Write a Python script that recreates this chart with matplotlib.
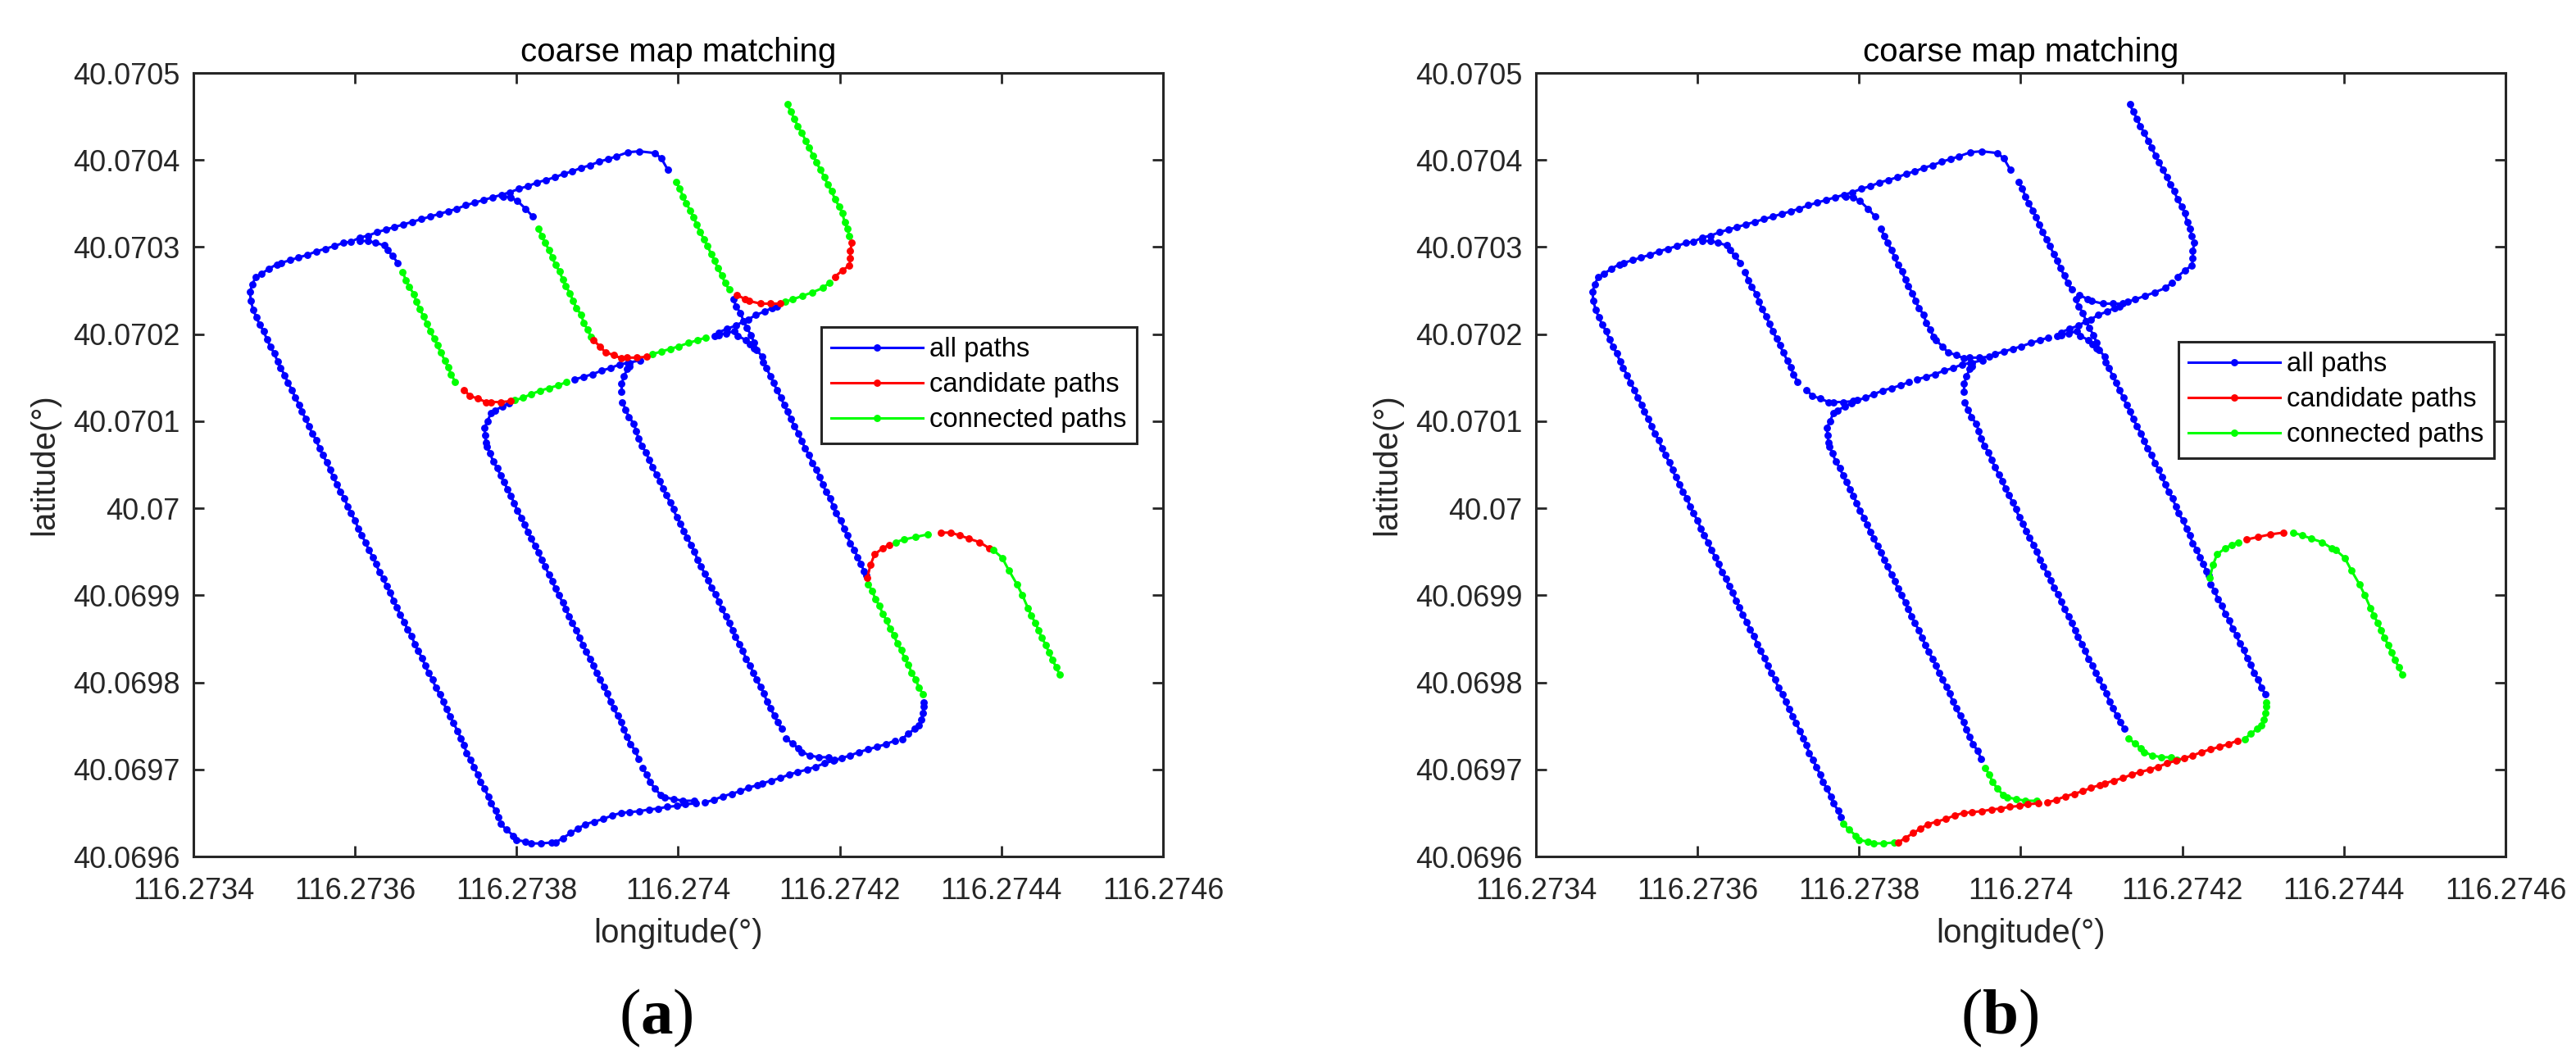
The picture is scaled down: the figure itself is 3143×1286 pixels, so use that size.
import numpy as np
import matplotlib
matplotlib.use("Agg")
import matplotlib.pyplot as plt
from matplotlib.lines import Line2D

plt.rcParams['font.family'] = ['Liberation Sans', 'DejaVu Sans']
plt.rcParams['mathtext.fontset'] = 'custom'
plt.rcParams['mathtext.bf'] = 'Liberation Serif:bold'
plt.rcParams['mathtext.rm'] = 'Liberation Serif'

# Values are offsets from the base coordinates in millionths of a degree: (lon, lat)
LON0 = 116.2734
LAT0 = 40.0696

x_tick_labels = ['116.2734', '116.2736', '116.2738', '116.274', '116.2742', '116.2744', '116.2746']
y_tick_labels = ['40.0696', '40.0697', '40.0698', '40.0699', '40.07', '40.0701', '40.0702', '40.0703', '40.0704', '40.0705']
x_ticks = [116.2734, 116.2736, 116.2738, 116.274, 116.2742, 116.2744, 116.2746]
y_ticks = [40.0696, 40.0697, 40.0698, 40.0699, 40.07, 40.0701, 40.0702, 40.0703, 40.0704, 40.0705]
legend_labels = ['all paths', 'candidate paths', 'connected paths']

west_loop = [(587,789),(579,802),(571,808),(552,810),(538,809),(523,804),(513,801),(502,798),(491,794),(480,791),
 (469,787),(458,784),(447,780),(436,777),(425,774),(414,770),(403,767),(392,763),(381,760),(370,757),(359,754),
 (348,751),(337,748),(326,744),(315,741),(304,738),(293,735),(282,732),(271,729),(260,726),(249,723),(238,720),
 (227,717),(216,713),(206,711),(195,706),(186,705),(174,701),(163,698),(152,695),(141,691),(130,688),(120,685),
 (109,682),(103,680),(93,675),(84,669),(77,666),(73,657),(70,649),(71,638),(74,628),(78,619),(82,611),(87,603),
 (91,594),(95,586),(100,578),(104,569),(108,561),(113,553),(117,544),(122,536),(126,527),(131,519),(134,511),
 (139,503),(143,494),(147,486),(152,478),(156,469),(160,461),(165,453),(169,444),(173,436),(178,427),(182,419),
 (187,411),(191,402),(195,394),(200,386),(204,377),(208,369),(213,361),(217,352),(222,344),(226,336),(230,327),
 (235,319),(239,311),(243,303),(248,294),(252,286),(256,278),(261,269),(265,261),(270,253),(274,244),(278,236),
 (283,228),(287,219),(291,211),(296,203),(300,194),(305,186),(309,178),(313,169),(318,161),(322,153),(327,144),
 (331,136),(335,128),(338,119),(343,111),(347,103),(352,94),(355,86),(360,78),(365,69),(368,61),(374,53),(377,45)]
sw_curve = [(380,38),(387,31),(396,24),(400,19),(411,17),(418,15),(430,15),(443,16)]
bottom_w = [(448,16),(457,21),(467,27),(476,32),(485,37),(496,40),(507,43),(518,47),(529,50),(540,51),(552,52),
 (564,54),(575,55),(586,57),(598,58),(609,60),(622,61)]
bottom_e = [(633,62),(644,65),(655,69),(666,72),(677,75),(687,79),(698,82),(704,84),(715,87),(726,90),(737,94),
 (748,97),(760,100),(770,103),(781,107),(792,110),(802,113),(813,116),(824,120),(835,123),(846,126),(857,129),(868,133)]
se_curve = [(877,135),(885,141),(893,147),(898,151),(901,157),(903,165),(904,172),(904,177)]

road1 = [(391,521),(382,517),(373,512),(368,509),(364,500),(360,492),(361,484),(362,475),(363,471),(367,463),(371,454),
 (376,446),(380,438),(384,430),(389,422),(393,414),(397,406),(401,397),(406,389),(410,381),(414,373),(418,365),
 (423,357),(427,349),(431,341),(435,333),(440,324),(444,316),(448,308),(452,300),(457,292),(461,284),(465,276),
 (469,268),(474,260),(478,251),(482,243),(486,235),(491,227),(495,219),(499,211),(503,203),(508,195),(512,187),
 (516,178),(520,170),(525,162),(529,154),(533,146),(537,137),(541,129),(547,121),(551,112)]
road1_end = [(556,102),(561,94),(565,86),(571,78),(578,71),(583,68),(594,66),(606,64),(620,64)]

road2_top = [(540,567),(540,563),(537,560),(533,552),(530,543),(530,534)]
road2 = [(531,522),(535,513),(539,505),(545,497),(548,489),(551,480),(555,472),(560,464),(564,456),(568,447),(573,439),
 (577,431),(581,423),(585,415),(590,407),(594,399),(598,390),(603,382),(607,374),(611,366),(616,358),(620,350),
 (624,341),(628,333),(633,325),(637,317),(641,309),(646,301),(650,293),(654,284),(659,276),(663,268),(667,260),
 (671,252),(676,244),(680,236),(684,227),(689,219),(693,211),(697,203),(702,195),(706,187),(710,178),(714,170),
 (719,162),(723,154),(728,147)]
road2_end = [(733,136),(741,130),(749,124),(753,120),(763,116),(774,114),(786,114),(793,111)]

east_road = [(668,640),(672,632),(677,624),(681,615),(685,607),(690,599),(694,590),(697,582),(704,574),(705,568),(709,561),
 (714,552),(718,544),(722,536),(727,527),(731,519),(735,511),(739,503),(744,494),(749,486),(753,477),(757,469),
 (762,461),(766,452),(771,444),(775,436),(779,427),(783,419),(788,411),(792,402),(795,394),(801,386),(805,377),
 (809,369),(813,360),(818,352),(822,344),(826,336),(830,328),(833,323)]
east_arm = [(650,599),(659,601),(669,603),(674,598),(684,593),(689,588),(694,584)]
east_lower = [(835,313),(840,305),(844,296),(849,288),(853,279),(858,271),(862,262),(867,254),(871,245),(876,237),
 (880,228),(885,220),(889,211),(894,203),(898,194),(903,186)]

hook = [(834,320),(838,335),(843,347),(853,354),(861,358),(869,361),(879,364),(894,367),(909,370),(925,372),(937,372),
 (948,369),(960,365),(973,361),(985,354),(990,352),(1001,343),(1009,329),(1019,313),(1026,300),(1033,285),(1037,277),
 (1042,268),(1046,260),(1050,251),(1055,243),(1059,234),(1063,226),(1068,217),(1072,209)]

branch1 = [(206,707),(216,707),(225,705),(236,702),(240,697),(246,690),(253,682)]
leg1 = [(259,671),(263,662),(267,654),(273,646),(276,637),(280,629),(285,620),(289,612),(293,603),(298,595),(302,587),
 (306,579),(311,570),(315,562),(319,554),(324,545)]
curve1 = [(335,536),(342,529),(352,526),(362,522),(368,522),(380,522),(393,523)]
link1 = [(398,524),(408,527),(418,531),(429,535),(440,538),(451,541),(462,545)]
main1 = [(472,548),(483,551),(494,554),(505,558),(516,561),(527,565),(538,567),(553,570)]

branch2 = [(383,758),(393,757),(401,753),(411,744),(420,735)]
leg2 = [(427,721),(431,713),(435,705),(440,697),(444,688),(448,680),(453,672),(457,663),(461,655),(466,647),(470,638),
 (474,630),(480,622),(483,613),(488,605),(492,597)]
curve2 = [(495,593),(503,586),(510,579),(520,576),(530,572),(537,573),(549,573),(561,574)]
link2 = [(568,577),(579,580),(590,583),(601,586),(613,590),(624,593),(634,596)]
main2 = [(645,598),(650,602),(660,606),(672,610),(681,615),(687,617),(696,622),(707,626),(716,630),(722,632)]

leg3 = [(597,775),(602,767),(606,758),(610,750),(615,742),(619,734),(623,726),(627,717),(632,709),(636,701),(641,692),
 (645,684),(649,676),(654,667),(658,659),(663,651)]
curve3 = [(673,645),(683,640),(688,638),(702,635),(714,635),(726,635)]
link3 = [(732,637),(742,640),(754,644),(766,648),(779,653),(787,659)]
bend3 = [(794,666),(803,673),(812,679),(813,687),(813,696),(815,705)]
tail3 = [(812,713),(809,721),(806,729),(803,739),(799,747),(794,755),(790,764),(785,772),(781,780),(776,789),(771,797),
 (767,805),(762,814),(758,822),(753,831),(748,839),(744,847),(739,856),(735,864)]

BLUE, RED, GREEN = '#0000ff', '#ff0000', '#00ff00'
DARK = '#262626'

pieces_a = [(west_loop, BLUE), (sw_curve, BLUE), (bottom_w, BLUE), (bottom_e, BLUE), (se_curve, BLUE),
            (road1, BLUE), (road1_end, BLUE), (road2_top, BLUE), (road2, BLUE), (road2_end, BLUE),
            (east_road, BLUE), (east_arm, BLUE), (branch1, BLUE), (main1, BLUE), (branch2, BLUE), (main2, BLUE),
            (leg1, GREEN), (link1, GREEN), (leg2, GREEN), (link2, GREEN), (leg3, GREEN), (link3, GREEN),
            (tail3, GREEN), (east_lower, GREEN),
            (hook[:5], RED), (hook[5:9], GREEN), (hook[9:15], RED), (hook[15:], GREEN),
            (curve1, RED), (curve2, RED), (curve3, RED), (bend3, RED)]
pieces_b = [(west_loop, BLUE), (road1, BLUE), (road2_top, BLUE), (road2, BLUE),
            (east_road, BLUE), (east_arm, BLUE), (east_lower, BLUE),
            (branch1, BLUE), (leg1, BLUE), (curve1, BLUE), (link1, BLUE), (main1, BLUE),
            (branch2, BLUE), (leg2, BLUE), (curve2, BLUE), (link2, BLUE), (main2, BLUE),
            (leg3, BLUE), (curve3, BLUE), (link3, BLUE), (bend3, BLUE), (tail3, BLUE),
            (sw_curve, GREEN), (road1_end, GREEN), (road2_end, GREEN), (se_curve, GREEN),
            (bottom_w, RED), (bottom_e, RED),
            (hook[:6], GREEN), (hook[6:10], RED), (hook[10:], GREEN)]

W, H = 3143, 1286
fig = plt.figure(figsize=(W / 100, H / 100), dpi=100, facecolor='white')


def panel(left_px, pieces, legend_px, caption, caption_x):
    ax = fig.add_axes([left_px / W, 1 - 1045 / H, 1183 / W, 956 / H])
    for pts, col in pieces:
        arr = np.array(pts, dtype=float)
        ax.plot(LON0 + arr[:, 0] / 1e6, LAT0 + arr[:, 1] / 1e6, '-o', color=col, lw=2.2, ms=6.4,
                mec=col, mew=0, clip_on=True)
    ax.set_xlim(116.2734, 116.2746)
    ax.set_ylim(40.0696, 40.0705)
    ax.set_xticks(x_ticks)
    ax.set_xticklabels(x_tick_labels)
    ax.set_yticks(y_ticks)
    ax.set_yticklabels(y_tick_labels)
    ax.tick_params(direction='in', top=True, right=True, length=9.4, width=2, color=DARK,
                   labelcolor=DARK, labelsize=26)
    ax.tick_params(axis='x', pad=18)
    ax.tick_params(axis='y', pad=12)
    for s in ax.spines.values():
        s.set_linewidth(2.2)
        s.set_color(DARK)
    ax.set_title('coarse map matching', fontsize=29, color='black', pad=10)
    ax.set_xlabel('longitude(°)', fontsize=29, color=DARK, labelpad=11)
    ax.set_ylabel('latitude(°)', fontsize=29, color=DARK, labelpad=11)
    handles = [Line2D([], [], color=c, lw=2.2, marker='o', ms=6.4, mew=0) for c in (BLUE, RED, GREEN)]
    leg = ax.legend(handles, legend_labels, loc='upper left',
                    bbox_to_anchor=(legend_px[0] / W, 1 - legend_px[1] / H),
                    bbox_transform=fig.transFigure, fontsize=23.6, fancybox=False, framealpha=1,
                    edgecolor=DARK, handlelength=3.4, handletextpad=0.25, borderpad=0.38,
                    labelspacing=0.36, borderaxespad=0, numpoints=1)
    leg.get_frame().set_linewidth(2.2)
    fig.text(caption_x / W, 1 - 1242 / H, caption, fontsize=57, family='Liberation Serif',
             ha='center', va='center', color='black')
    return ax


panel(236, pieces_a, (1002, 399), '($\\mathbf{a}$)', 800)
panel(1874, pieces_b, (2658, 417), '($\\mathbf{b}$)', 2440)

fig.savefig('out.png', dpi=100)
